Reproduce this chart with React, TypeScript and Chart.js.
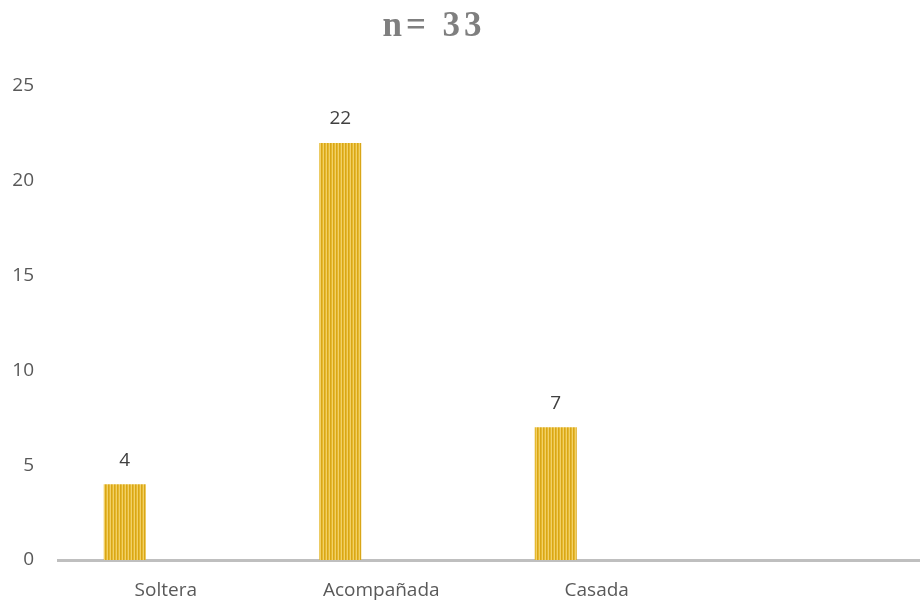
import React, { useEffect, useRef } from "react";
import { Chart, registerables } from "chart.js";

Chart.register(...registerables);

const categories = ["Soltera", "Acompañada", "Casada", ""];
const values = [4, 22, 7, null];
const emptySeries = [null, null, null, null];
const yTicks = [0, 5, 10, 15, 20, 25];
const titleText = "n= 33";

function makePattern(): CanvasPattern | string {
  const c = document.createElement("canvas");
  c.width = 3;
  c.height = 4;
  const g = c.getContext("2d");
  if (!g) return "#E2B022";
  g.fillStyle = "#D9A617";
  g.fillRect(0, 0, 1, 4);
  g.fillStyle = "#E6B92E";
  g.fillRect(1, 0, 1, 4);
  g.fillStyle = "#F2D067";
  g.fillRect(2, 0, 1, 4);
  const p = g.createPattern(c, "repeat");
  return p || "#E2B022";
}

export default function App() {
  const ref = useRef<HTMLCanvasElement>(null);
  useEffect(() => {
    if (!ref.current) return;
    const font = "'Open Sans', 'Liberation Sans', sans-serif";
    const labelPlugin = {
      id: "valueLabels",
      afterDatasetsDraw(chart: any) {
        const ctx = chart.ctx;
        const meta = chart.getDatasetMeta(0);
        ctx.save();
        ctx.fillStyle = "#404040";
        ctx.font = `19px ${font}`;
        ctx.textAlign = "center";
        ctx.textBaseline = "middle";
        meta.data.forEach((bar: any, i: number) => {
          const v = values[i];
          if (v == null) return;
          ctx.fillText(String(v), bar.x, bar.y - 24);
        });
        ctx.restore();
      },
    };
    const titlePlugin = {
      id: "customTitle",
      afterDraw(chart: any) {
        const ctx = chart.ctx;
        ctx.save();
        ctx.fillStyle = "#7F7F7F";
        ctx.font = "bold 35px 'Liberation Serif', 'DejaVu Serif', serif";
        (ctx as any).letterSpacing = "4px";
        ctx.textAlign = "center";
        ctx.textBaseline = "middle";
        ctx.fillText(titleText, 434, 27);
        ctx.restore();
      },
    };
    const chart = new Chart(ref.current, {
      type: "bar",
      data: {
        labels: categories,
        datasets: [
          {
            data: values as any,
            backgroundColor: makePattern() as any,
            borderWidth: 0,
            categoryPercentage: 0.761,
            barPercentage: 0.512,
          },
          {
            data: emptySeries as any,
            backgroundColor: "rgba(0,0,0,0)",
            categoryPercentage: 0.761,
            barPercentage: 0.512,
          },
        ],
      },
      options: {
        animation: false,
        responsive: false,
        maintainAspectRatio: false,
        layout: { padding: { top: 86, left: 8, right: 0, bottom: 0 } },
        plugins: {
          legend: { display: false },
          title: { display: false },
          tooltip: { enabled: false },
        },
        scales: {
          x: {
            afterFit(scale: any) {
              scale.height = 41;
            },
            grid: { display: false },
            border: { color: "#BFBFBF", width: 3 },
            ticks: {
              color: "#595959",
              font: { family: font, size: 19 },
              padding: 11,
              maxRotation: 0,
            },
          },
          y: {
            min: 0,
            max: 25,
            afterFit(scale: any) {
              scale.width = 50;
            },
            afterBuildTicks(scale: any) {
              scale.ticks = yTicks.map((v) => ({ value: v }));
            },
            grid: { display: false },
            border: { display: false },
            ticks: {
              color: "#595959",
              font: { family: font, size: 19 },
              padding: 16,
            },
          },
        },
      },
      plugins: [labelPlugin, titlePlugin],
    });
    return () => chart.destroy();
  }, []);
  return (
    <div style={{ position: "absolute", left: 0, top: 0, width: 920, height: 601, background: "#fff" }}>
      <canvas ref={ref} width={920} height={601} style={{ display: "block" }} />
    </div>
  );
}
